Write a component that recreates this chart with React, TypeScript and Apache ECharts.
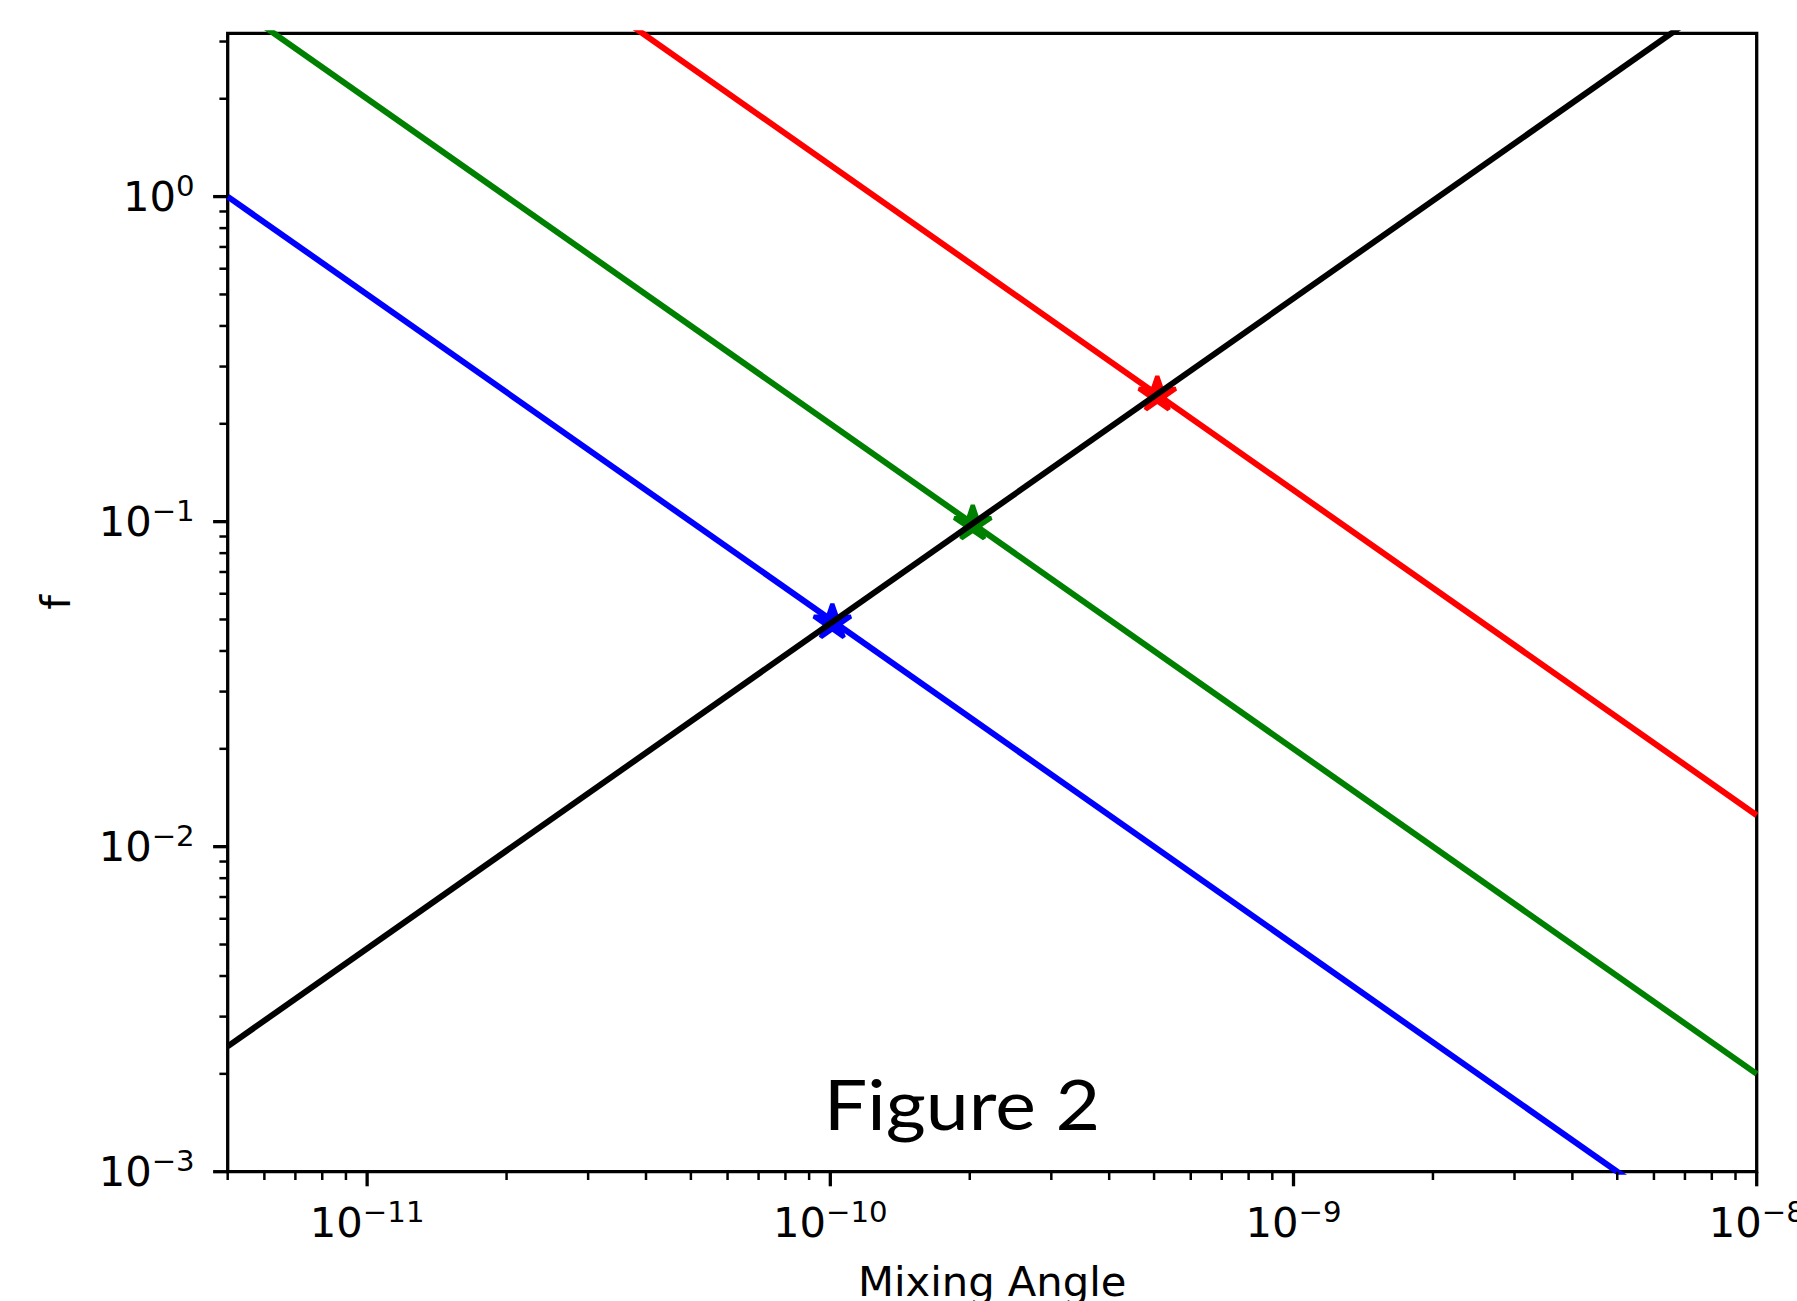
import React, { useEffect, useRef } from 'react';
import * as echarts from 'echarts';

// ---- axis ranges ----
const X_MIN = 5e-12;
const X_MAX = 1e-8;
const Y_MIN = 1e-3;
const Y_MAX = 3.18;

// ---- series (straight lines in log-log space, given by their end points) ----
const blueLine: number[][] = [[5e-12, 1.0], [1e-8, 5e-4]];
const greenLine: number[][] = [[5e-12, 4.0], [1e-8, 2e-3]];
const redLine: number[][] = [[5e-12, 25], [1e-8, 1.25e-2]];
const blackLine: number[][] = [[5e-12, 2.43e-3], [1e-8, 4.86]];

// ---- star markers at the crossings ----
const blueStar: number[] = [1.01e-10, 0.049];
const greenStar: number[] = [2.03e-10, 0.0985];
const redStar: number[] = [5.08e-10, 0.246];

// ---- ticks ----
const xMajorTicks = [1e-11, 1e-10, 1e-9, 1e-8];
const yMajorTicks = [1e-3, 1e-2, 1e-1, 1e0];
const xDecades = [-12, -11, -10, -9];
const yDecades = [-3, -2, -1, 0];
const minorMultipliers = [2, 3, 4, 5, 6, 7, 8, 9];

const FONT = 'DejaVu Sans';
const STAR_PATH =
  'path://M50 0 L61.23 34.55 L97.55 34.55 L68.17 55.9 L79.39 90.45 L50 69.1 L20.61 90.45 L31.83 55.9 L2.45 34.55 L38.77 34.55 Z';

function minorTicks(decades: number[], lo: number, hi: number): number[] {
  const out: number[] = [];
  decades.forEach((d) => {
    minorMultipliers.forEach((m) => {
      const v = m * Math.pow(10, d);
      if (v >= lo * 0.999999 && v <= hi * 1.000001) out.push(v);
    });
  });
  return out;
}

function powLabel(v: number): string {
  const e = Math.log10(v);
  const r = Math.round(e);
  if (Math.abs(e - r) > 1e-6) return '';
  const exp = r < 0 ? '\u2212' + String(-r) : String(r);
  return '{b|10}{s|' + exp + '}';
}

const richStyles = {
  b: { fontSize: 41.7, fontFamily: FONT, color: '#000', lineHeight: 50 },
  s: { fontSize: 29.2, fontFamily: FONT, color: '#000', lineHeight: 25, verticalAlign: 'top' },
};

export default function App() {
  const ref = useRef<HTMLDivElement>(null);

  useEffect(() => {
    if (!ref.current) return;
    const chart = echarts.init(ref.current, undefined, { renderer: 'svg' });

    const xMinor = minorTicks(xDecades, X_MIN, X_MAX);
    const yMinor = minorTicks(yDecades, Y_MIN, Y_MAX);
    const xTickData = [
      ...xMajorTicks.map((v) => [v, 1]),
      ...xMinor.map((v) => [v, 0]),
    ];
    const yTickData = [
      ...yMajorTicks.map((v) => [v, 1]),
      ...yMinor.map((v) => [v, 0]),
    ];

    const lineSeries = (name: string, data: number[][], color: string) => ({
      name,
      type: 'line',
      data,
      showSymbol: false,
      symbol: 'none',
      clip: true,
      lineStyle: { color, width: 6, cap: 'butt' },
      silent: true,
    });

    const starSeries = (name: string, pt: number[], color: string) => ({
      name,
      type: 'scatter',
      data: [pt],
      symbol: STAR_PATH,
      symbolKeepAspect: true,
      symbolSize: [37, 35.2],
      symbolOffset: [0, -1.8],
      itemStyle: { color, borderColor: color, borderWidth: 4.2, borderJoin: 'bevel', opacity: 1 },
      silent: true,
    });

    const option: any = {
      animation: false,
      backgroundColor: '#fff',
      grid: {
        left: 227.7,
        top: 33.3,
        right: 1797 - 1756.7,
        bottom: 1301 - 1171.7,
        outerBoundsMode: 'none',
        containLabel: false,
        show: true,
        borderColor: '#000',
        borderWidth: 3.3,
        backgroundColor: 'transparent',
      },
      xAxis: {
        type: 'log',
        logBase: 10,
        min: X_MIN,
        max: X_MAX,
        name: 'Mixing Angle',
        nameLocation: 'middle',
        nameGap: 85,
        nameTextStyle: { fontSize: 41.7, fontFamily: FONT, color: '#000', lineHeight: 50 },
        axisLine: { show: false },
        axisTick: { show: false },
        minorTick: { show: false },
        splitLine: { show: false },
        axisLabel: {
          margin: 26,
          formatter: (v: number) => powLabel(v),
          rich: richStyles,
          showMinLabel: true,
          showMaxLabel: true,
        },
      },
      yAxis: {
        type: 'log',
        logBase: 10,
        min: Y_MIN,
        max: Y_MAX,
        name: 'f',
        nameLocation: 'middle',
        nameRotate: 90,
        nameGap: 147,
        nameTextStyle: { fontSize: 41.7, fontFamily: FONT, color: '#000', lineHeight: 50 },
        axisLine: { show: false },
        axisTick: { show: false },
        minorTick: { show: false },
        splitLine: { show: false },
        axisLabel: {
          margin: 33,
          formatter: (v: number) => powLabel(v),
          rich: richStyles,
        },
      },
      series: [
        lineSeries('blue', blueLine, '#0000ff'),
        lineSeries('green', greenLine, '#008000'),
        lineSeries('red', redLine, '#ff0000'),
        starSeries('blue star', blueStar, '#0000ff'),
        starSeries('green star', greenStar, '#008000'),
        starSeries('red star', redStar, '#ff0000'),
        lineSeries('black', blackLine, '#000000'),
        {
          name: 'x ticks',
          type: 'custom',
          data: xTickData,
          clip: false,
          silent: true,
          z: 10,
          renderItem: (_p: any, api: any) => {
            const x = api.value(0);
            const major = api.value(1) === 1;
            const pt = api.coord([x, Y_MIN]);
            const len = major ? 14.6 : 8.3;
            return {
              type: 'line',
              shape: { x1: pt[0], y1: pt[1], x2: pt[0], y2: pt[1] + len },
              style: { stroke: '#000', lineWidth: major ? 3.3 : 2.5 },
            };
          },
        },
        {
          name: 'y ticks',
          type: 'custom',
          data: yTickData.map((d) => [X_MIN, d[0], d[1]]),
          clip: false,
          silent: true,
          z: 10,
          renderItem: (_p: any, api: any) => {
            const y = api.value(1);
            const major = api.value(2) === 1;
            const pt = api.coord([X_MIN, y]);
            const len = major ? 14.6 : 8.3;
            return {
              type: 'line',
              shape: { x1: pt[0], y1: pt[1], x2: pt[0] - len, y2: pt[1] },
              style: { stroke: '#000', lineWidth: major ? 3.3 : 2.5 },
            };
          },
        },
      ],
      graphic: [
        {
          type: 'text',
          x: 962,
          y: 1103,
          scaleX: 1.1,
          z: 20,
          style: {
            text: 'Figure 2',
            fontSize: 70,
            fontFamily: 'Lato',
            fill: '#000',
            align: 'center',
            verticalAlign: 'middle',
          },
        },
      ],
    };

    chart.setOption(option);
    return () => chart.dispose();
  }, []);

  return (
    <div
      ref={ref}
      style={{ position: 'absolute', left: 0, top: 0, width: 1797, height: 1301, background: '#fff' }}
    />
  );
}
